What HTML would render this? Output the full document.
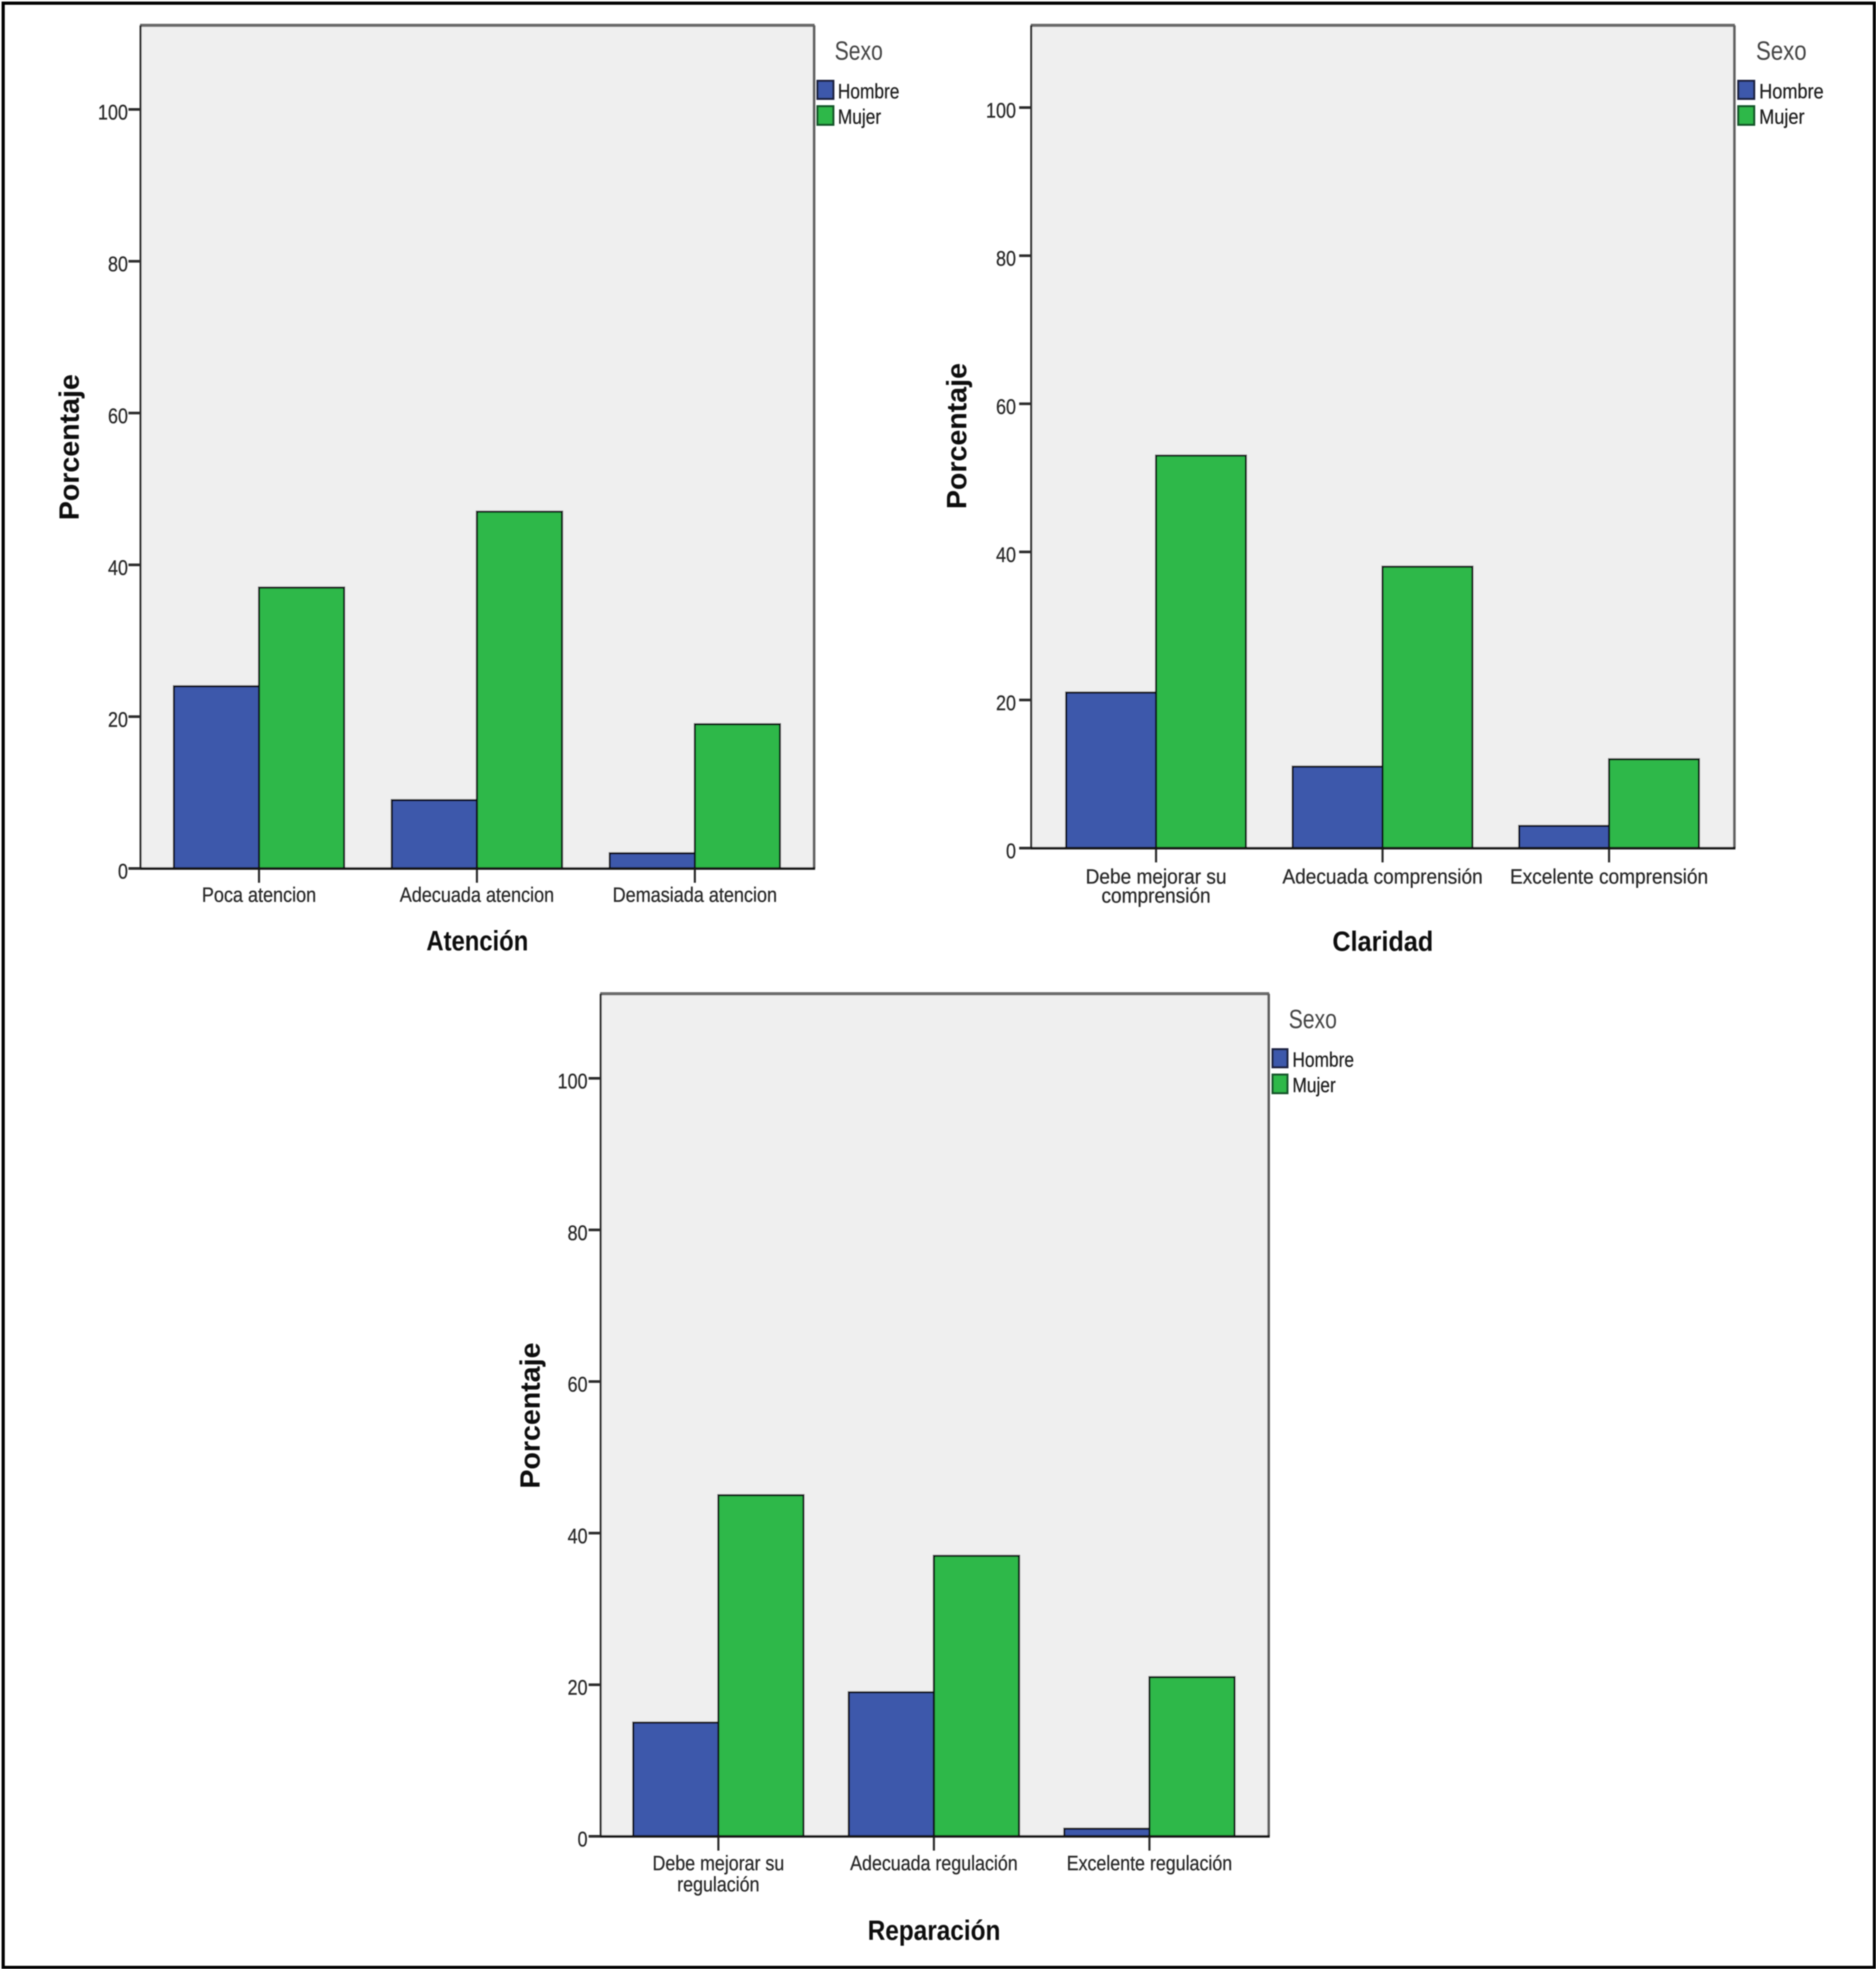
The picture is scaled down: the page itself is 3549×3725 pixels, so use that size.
<!DOCTYPE html>
<html lang="es">
<head>
<meta charset="utf-8">
<title>Atención, Claridad y Reparación por sexo</title>
<style>
html,body{margin:0;padding:0;background:#fff;}
svg{display:block;font-family:"Liberation Sans",sans-serif;}
.tick-label{font-size:40px;fill:#2a2a2a;stroke:#2a2a2a;stroke-width:.5px;}
.cat-label{font-size:39px;fill:#2a2a2a;stroke:#2a2a2a;stroke-width:.5px;}
.legend-title{font-size:50px;fill:#444;}
.legend-label{font-size:39px;fill:#222;stroke:#222;stroke-width:.5px;}
.axis-title{font-size:53px;font-weight:bold;fill:#0a0a0a;}
</style>
</head>
<body>
<svg id="figure" xmlns="http://www.w3.org/2000/svg" width="3549" height="3725" viewBox="0 0 3549 3725">
  <defs>
    <filter id="soft" x="-2%" y="-2%" width="104%" height="104%"><feGaussianBlur stdDeviation="1.1"/></filter>
  </defs>
  <rect x="0" y="0" width="3549" height="3725" fill="#ffffff"/>
  <g filter="url(#soft)">
    <rect x="6" y="6" width="3540" height="3716" fill="none" stroke="#000000" stroke-width="6"/>

    <g id="chart-atencion">
      <text class="axis-title" transform="translate(149,846) rotate(-90) scale(1.02,1)" text-anchor="middle">Porcentaje</text>
      <text class="axis-title" transform="translate(903,1798) scale(.85,1)" text-anchor="middle">Atención</text>
      <text class="legend-title" transform="translate(1579,113) scale(.8,1)">Sexo</text>
      <rect x="1546.5" y="153" width="30" height="34" fill="#3e58ab" stroke="#1c2340" stroke-width="4"/>
      <text class="legend-label" transform="translate(1585,186) scale(.84,1)">Hombre</text>
      <rect x="1546.5" y="201" width="30" height="35" fill="#2fb84a" stroke="#17552a" stroke-width="4"/>
      <text class="legend-label" transform="translate(1585,234) scale(.84,1)">Mujer</text>
    </g>

    <g id="chart-claridad">
      <text class="axis-title" transform="translate(1828,825) rotate(-90) scale(1.02,1)" text-anchor="middle">Porcentaje</text>
      <text class="axis-title" transform="translate(2616,1799) scale(.9,1)" text-anchor="middle">Claridad</text>
      <text class="legend-title" transform="translate(3322,113) scale(.84,1)">Sexo</text>
      <rect x="3288.5" y="153" width="30" height="34" fill="#3e58ab" stroke="#1c2340" stroke-width="4"/>
      <text class="legend-label" transform="translate(3328,186) scale(.88,1)">Hombre</text>
      <rect x="3288.5" y="201" width="30" height="35" fill="#2fb84a" stroke="#17552a" stroke-width="4"/>
      <text class="legend-label" transform="translate(3328,234) scale(.88,1)">Mujer</text>
    </g>

    <g id="chart-reparacion">
      <text class="axis-title" transform="translate(1021,2678) rotate(-90) scale(1.02,1)" text-anchor="middle">Porcentaje</text>
      <text class="axis-title" transform="translate(1767,3670) scale(.87,1)" text-anchor="middle">Reparación</text>
      <text class="legend-title" transform="translate(2438,1945) scale(.8,1)">Sexo</text>
      <rect x="2407.5" y="1985" width="28" height="34" fill="#3e58ab" stroke="#1c2340" stroke-width="4"/>
      <text class="legend-label" transform="translate(2445,2018) scale(.84,1)">Hombre</text>
      <rect x="2407.5" y="2033" width="28" height="35" fill="#2fb84a" stroke="#17552a" stroke-width="4"/>
      <text class="legend-label" transform="translate(2445,2066) scale(.84,1)">Mujer</text>
    </g>
  </g>
</svg>
<script>
// Shared axis tick labels
const yTickValues = [0, 20, 40, 60, 80, 100];

// Atención
const atencionCategories = ['Poca atencion', 'Adecuada atencion', 'Demasiada atencion'];
const atencionHombre = [24, 9, 2];
const atencionMujer = [37, 47, 19];

// Claridad
const claridadCategories = ['Debe mejorar su\ncomprensión', 'Adecuada comprensión', 'Excelente comprensión'];
const claridadHombre = [21, 11, 3];
const claridadMujer = [53, 38, 12];

// Reparación
const reparacionCategories = ['Debe mejorar su\nregulación', 'Adecuada regulación', 'Excelente regulación'];
const reparacionHombre = [15, 19, 1];
const reparacionMujer = [45, 37, 21];

const SVG_NS = 'http://www.w3.org/2000/svg';
const BLUE = '#3e58ab';
const GREEN = '#2fb84a';

function shape(tag, parent, attrs) {
  const el = document.createElementNS(SVG_NS, tag);
  for (const key in attrs) el.setAttribute(key, attrs[key]);
  parent.appendChild(el);
  return el;
}

function drawChart(id, categories, hombre, mujer, frame) {
  const root = document.getElementById(id);
  const yScale = function (v) { return frame.zeroY - v * frame.unit; };
  const xScale = function (i) { return frame.firstCenter + i * frame.pitch; };

  const plot = shape('rect', root, { x: frame.left, y: frame.top, width: frame.right - frame.left, height: frame.zeroY - frame.top, fill: '#efefef' });
  
  

  const topLine = shape('line', root, { x1: frame.left - 1, x2: frame.right + 1, y1: frame.top, y2: frame.top, stroke: '#6a6a6a', 'stroke-width': 6 });
  
  

  const rightLine = shape('line', root, { x1: frame.right, x2: frame.right, y1: frame.top, y2: frame.zeroY, stroke: '#5e5e5e', 'stroke-width': 5 });
  
  

  const leftLine = shape('line', root, { x1: frame.left, x2: frame.left, y1: frame.top, y2: frame.zeroY, stroke: '#2a2a2a', 'stroke-width': 4 });
  
  

  yTickValues.forEach(function (v) {
    const y = yScale(v);
    const tick = shape('line', root, { x1: frame.left - 23, x2: frame.left, y1: y, y2: y, stroke: '#2a2a2a', 'stroke-width': 5 });
    
    
    const label = shape('text', root, { class: 'tick-label', 'text-anchor': 'end', transform: 'translate(' + (frame.left - frame.tickGap) + ',' + (y + 19) + ') scale(.85,1)' });
    
    
    label.textContent = String(v);
  });

  categories.forEach(function (cat, i) {
    const center = xScale(i);
    const hTop = yScale(hombre[i]);
    const mTop = yScale(mujer[i]);

    const hBar = shape('rect', root, { x: center - frame.barW, y: hTop, width: frame.barW, height: frame.zeroY - hTop, fill: BLUE, stroke: '#0f1118', 'stroke-width': 4 });
    
    

    const mBar = shape('rect', root, { x: center, y: mTop, width: frame.barW, height: frame.zeroY - mTop, fill: GREEN, stroke: '#0f1712', 'stroke-width': 4 });
    
    

    const catTick = shape('line', root, { x1: center, x2: center, y1: frame.zeroY, y2: frame.zeroY + 27, stroke: '#2a2a2a', 'stroke-width': 4 });
    
    

    cat.split('\n').forEach(function (line, n) {
      const y = frame.zeroY + frame.catOffset + n * frame.catLeading;
      const label = shape('text', root, { class: 'cat-label', 'text-anchor': 'middle', transform: 'translate(' + center + ',' + y + ') scale(' + frame.catScale + ',1)' });
      
      
      label.textContent = line;
    });
  });

  const bottomLine = shape('line', root, { x1: frame.left - 1, x2: frame.right + 2, y1: frame.zeroY, y2: frame.zeroY, stroke: '#141414', 'stroke-width': 5 });
  
  
}

drawChart('chart-atencion', atencionCategories, atencionHombre, atencionMujer,
  { left: 266, right: 1540, top: 48, zeroY: 1643, unit: 14.36, firstCenter: 490, pitch: 412.25, barW: 161, catOffset: 63, catLeading: 38, catScale: 0.875, tickGap: 24 });
drawChart('chart-claridad', claridadCategories, claridadHombre, claridadMujer,
  { left: 1951, right: 3281, top: 48, zeroY: 1604.5, unit: 14.01, firstCenter: 2187, pitch: 428.5, barW: 170, catOffset: 67, catLeading: 36, catScale: 0.925, tickGap: 29 });
drawChart('chart-reparacion', reparacionCategories, reparacionHombre, reparacionMujer,
  { left: 1136.5, right: 2400, top: 1880, zeroY: 3474, unit: 14.34, firstCenter: 1359, pitch: 407.75, barW: 161, catOffset: 64, catLeading: 40, catScale: 0.865, tickGap: 25 });
</script>
</body>
</html>
